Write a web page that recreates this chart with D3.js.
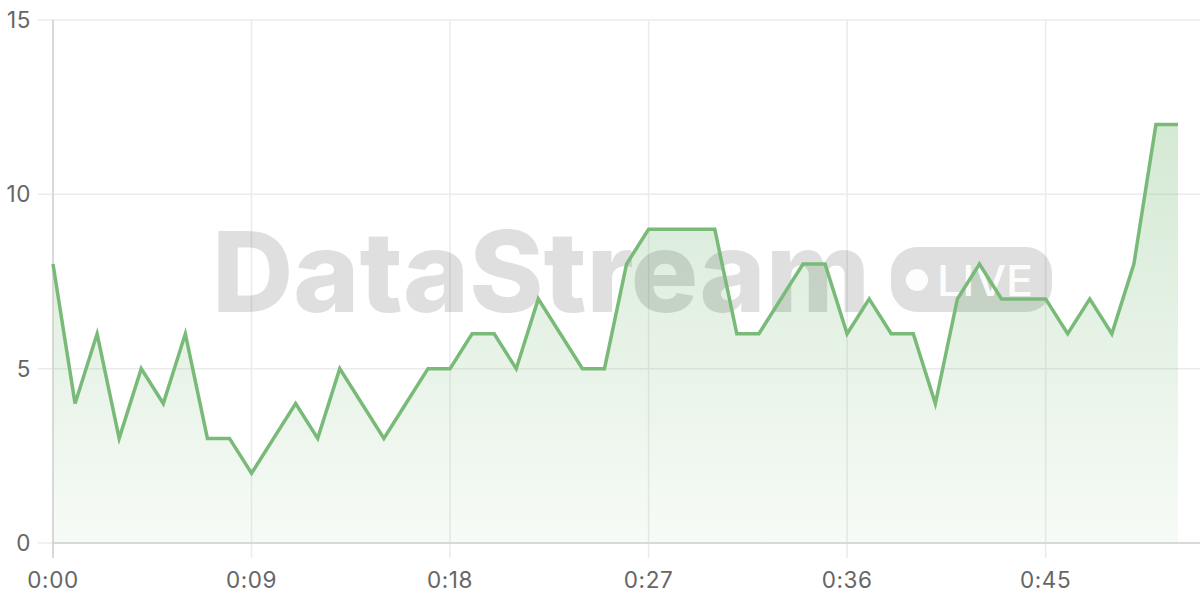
<!DOCTYPE html>
<html>
<head>
<meta charset="utf-8">
<script src="https://cdn.jsdelivr.net/npm/d3@7"></script>
<style>
  html, body { margin: 0; padding: 0; background: #fff; }
  svg { display: block; font-family: Inter, "Noto Sans", sans-serif; }
</style>
</head>
<body>
<div id="chart"></div>
<script>
// seconds since start, one reading per second
var seconds = d3.range(0, 52);
var counts = [8,4,6,3,5,4,6,3,3,2,
              3,4,3,5,4,3,4,5,5,6,
              6,5,7,6,5,5,8,9,9,9,
              9,6,6,7,8,8,6,7,6,6,
              4,7,8,7,7,7,6,7,6,8,
              12,12];
var xTicks = [0, 9, 18, 27, 36, 45];
var yTicks = [0, 5, 10, 15];

var width = 1200, height = 600;
var margin = {top: 20, right: 22, bottom: 57, left: 53};

var lineColor = "#79ba79";

var svg = d3.select("#chart")
  .append("svg")
    .attr("width", width)
    .attr("height", height);

var x = d3.scaleLinear()
  .domain([0, 51])
  .range([margin.left, width - margin.right]);

var y = d3.scaleLinear()
  .domain([0, 15])
  .range([height - margin.bottom, margin.top]);

function fmtTime(s) {
  return Math.floor(s / 60) + ":" + d3.format("02d")(s % 60);
}

// gradient for the area under the line
var defs = svg.append("defs");
var grad = defs.append("linearGradient")
    .attr("id", "areaFill")
    .attr("x1", 0).attr("y1", 0).attr("x2", 0).attr("y2", 1);
grad.append("stop").attr("offset", "0%").attr("stop-color", lineColor).attr("stop-opacity", 0.32);
grad.append("stop").attr("offset", "100%").attr("stop-color", lineColor).attr("stop-opacity", 0.06);

// horizontal grid
svg.append("g")
  .selectAll("line")
  .data(yTicks)
  .enter().append("line")
    .attr("x1", margin.left - 15)
    .attr("x2", width)
    .attr("y1", function(d){ return y(d); })
    .attr("y2", function(d){ return y(d); })
    .attr("stroke", "#ebebeb")
    .attr("stroke-width", 1.5);

// vertical grid
svg.append("g")
  .selectAll("line")
  .data(xTicks)
  .enter().append("line")
    .attr("x1", function(d){ return x(d); })
    .attr("x2", function(d){ return x(d); })
    .attr("y1", y(15))
    .attr("y2", y(0) + 15)
    .attr("stroke", "#ebebeb")
    .attr("stroke-width", 1.5);

// area
var area = d3.area()
  .x(function(d, i){ return x(seconds[i]); })
  .y0(y(0))
  .y1(function(d){ return y(d); });

svg.append("path")
  .datum(counts)
  .attr("d", area)
  .attr("fill", "url(#areaFill)");

// watermark
var wm = svg.append("g").attr("class", "watermark");
wm.append("text")
  .attr("x", 212)
  .attr("y", 312)
  .attr("textLength", 658)
  .attr("lengthAdjust", "spacingAndGlyphs")
  .style("font-family", "Inter, 'Open Sans', sans-serif")
  .style("font-weight", 800)
  .style("font-size", "112px")
  .attr("fill", "#000")
  .attr("fill-opacity", 0.125)
  .text("DataStream");
wm.append("rect")
  .attr("x", 891).attr("y", 247)
  .attr("width", 161).attr("height", 65)
  .attr("rx", 26)
  .attr("fill", "#000")
  .attr("fill-opacity", 0.125);
wm.append("circle")
  .attr("cx", 917).attr("cy", 280).attr("r", 11)
  .attr("fill", "#fff")
  .attr("fill-opacity", 0.92);
wm.append("text")
  .attr("x", 937)
  .attr("y", 296)
  .attr("textLength", 96)
  .attr("lengthAdjust", "spacingAndGlyphs")
  .style("font-family", "Inter, sans-serif")
  .style("font-weight", 500)
  .style("font-size", "43px")
  .attr("fill", "#fff")
  .attr("fill-opacity", 0.92)
  .text("LIVE");

// axis lines
svg.append("line")
  .attr("x1", x(0)).attr("x2", width)
  .attr("y1", y(0)).attr("y2", y(0))
  .attr("stroke", "#d2d2d2").attr("stroke-width", 1.5);
svg.append("line")
  .attr("x1", x(0)).attr("x2", x(0))
  .attr("y1", y(15)).attr("y2", y(0) + 15)
  .attr("stroke", "#d2d2d2").attr("stroke-width", 1.5);

// line
var line = d3.line()
  .x(function(d, i){ return x(seconds[i]); })
  .y(function(d){ return y(d); });

svg.append("path")
  .datum(counts)
  .attr("d", line)
  .attr("fill", "none")
  .attr("stroke", lineColor)
  .attr("stroke-width", 3.5)
  .attr("stroke-linejoin", "miter");

// tick labels
svg.append("g")
  .selectAll("text")
  .data(yTicks)
  .enter().append("text")
    .attr("x", 31)
    .attr("y", function(d){ return y(d); })
    .attr("dy", "0.36em")
    .attr("text-anchor", "end")
    .attr("fill", "#666")
    .style("font-size", "22.5px")
    .style("letter-spacing", "0.6px")
    .text(function(d){ return d; });

svg.append("g")
  .selectAll("text")
  .data(xTicks)
  .enter().append("text")
    .attr("x", function(d){ return x(d); })
    .attr("y", 588)
    .attr("text-anchor", "middle")
    .attr("fill", "#666")
    .style("font-size", "22.5px")
    .style("letter-spacing", "0.6px")
    .text(function(d){ return fmtTime(d); });
</script>
</body>
</html>
